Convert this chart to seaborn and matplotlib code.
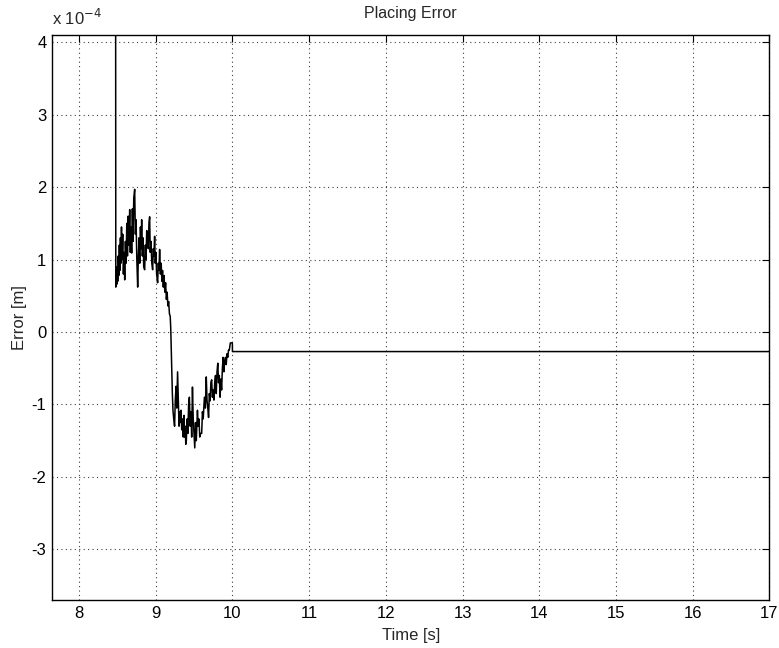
import numpy as np
import pandas as pd
import matplotlib
matplotlib.use("Agg")
import matplotlib.pyplot as plt
import seaborn as sns

# ---- data (error in units of 1e-4 m) ----
t_hold = [7.65, 8.478]
e_hold = [6.0, 6.0]

t_pos = [8.481, 8.488, 8.494, 8.500, 8.506, 8.513, 8.520, 8.527, 8.534, 8.541,
         8.548, 8.555, 8.562, 8.571, 8.580, 8.589, 8.597, 8.606, 8.615, 8.624,
         8.633, 8.642, 8.652, 8.662, 8.670, 8.678, 8.688, 8.697, 8.706, 8.715,
         8.727, 8.736, 8.745, 8.755, 8.766, 8.775, 8.784, 8.793, 8.802, 8.810,
         8.818, 8.827, 8.836, 8.845, 8.857, 8.866, 8.875, 8.884, 8.896, 8.905,
         8.913, 8.922, 8.930, 8.940, 8.950, 8.961, 8.970, 8.978, 8.987, 8.995,
         9.004, 9.013, 9.026, 9.035, 9.044, 9.052, 9.062, 9.072, 9.082, 9.090,
         9.100, 9.110, 9.120, 9.130, 9.140, 9.150, 9.160, 9.170, 9.180, 9.190]
e_pos = [0.62, 0.85, 0.66, 0.90, 0.70, 1.05, 0.78, 1.20, 0.85, 1.30,
         0.95, 1.45, 1.00, 1.35, 0.80, 1.10, 0.72, 1.25, 0.95, 1.50,
         1.05, 1.60, 1.20, 1.69, 1.10, 1.45, 1.09, 1.70, 1.25, 1.85,
         1.97, 1.35, 1.55, 1.00, 0.62, 1.05, 1.30, 0.95, 1.45, 1.15,
         1.55, 1.05, 1.30, 0.90, 0.86, 1.20, 1.00, 1.40, 1.37, 1.15,
         1.50, 1.59, 1.10, 1.25, 0.95, 0.86, 1.15, 1.05, 1.32, 0.95,
         1.10, 0.80, 0.68, 0.95, 0.85, 1.14, 0.80, 0.95, 0.70, 0.85,
         0.62, 0.78, 0.55, 0.68, 0.45, 0.55, 0.36, 0.42, 0.25, 0.22]

t_neg = [9.197, 9.203, 9.210, 9.218, 9.226, 9.236, 9.247, 9.256, 9.266, 9.276,
         9.286, 9.296, 9.305, 9.313, 9.322, 9.331, 9.340, 9.350, 9.360, 9.370,
         9.377, 9.385, 9.393, 9.400, 9.410, 9.420, 9.430, 9.440, 9.450, 9.460,
         9.470, 9.480, 9.490, 9.500, 9.510, 9.520, 9.530, 9.545, 9.555, 9.565,
         9.575, 9.585, 9.600, 9.610, 9.620, 9.636, 9.648, 9.660, 9.670, 9.680,
         9.690, 9.700, 9.710, 9.720, 9.730, 9.740, 9.750, 9.760, 9.770, 9.780,
         9.790, 9.800, 9.810, 9.820, 9.830, 9.840, 9.850, 9.860, 9.870, 9.880,
         9.890, 9.900, 9.910, 9.920, 9.930, 9.940, 9.950, 9.960, 9.974, 9.990]
e_neg = [0.05, -0.20, -0.50, -0.85, -1.08, -1.20, -1.30, -0.95, -0.75, -1.05,
         -0.55, -0.95, -1.30, -1.10, -1.25, -1.08, -1.35, -1.20, -1.45, -1.15,
         -1.45, -1.30, -1.55, -1.50, -1.20, -1.40, -1.00, -0.90, -1.30, -1.10,
         -1.45, -0.76, -1.20, -1.40, -1.60, -1.25, -1.50, -1.08, -1.30, -1.20,
         -1.45, -1.40, -1.40, -1.10, -1.20, -0.90, -1.05, -0.62, -0.95, -1.05,
         -1.18, -0.85, -0.95, -0.70, -0.66, -0.90, -0.80, -0.94, -0.70, -0.60,
         -0.85, -0.55, -0.43, -0.70, -0.60, -0.90, -0.65, -0.80, -0.50, -0.35,
         -0.55, -0.40, -0.35, -0.45, -0.30, -0.35, -0.25, -0.25, -0.15, -0.15]

t_flat = [10.0, 10.001, 17.0]
e_flat = [-0.15, -0.27, -0.27]

x_ticks = [8, 9, 10, 11, 12, 13, 14, 15, 16, 17]
y_ticks = [-3, -2, -1, 0, 1, 2, 3, 4]

df = pd.DataFrame({
    "time": t_hold + t_pos + t_neg + t_flat,
    "error": e_hold + e_pos + e_neg + e_flat,
})

sns.set_theme(style="white")
plt.rcParams["font.family"] = ["Liberation Sans", "DejaVu Sans"]

fig = plt.figure(figsize=(7.79, 6.48), dpi=100)
ax = fig.add_axes([0.0668, 0.074, 0.921, 0.872])

sns.lineplot(data=df, x="time", y="error", sort=False, estimator=None,
             color="black", linewidth=1.1, ax=ax)

ax.set_xlim(7.65, 17)
ax.set_ylim(-3.7, 4.1)
ax.set_xticks(x_ticks)
ax.set_yticks(y_ticks)
ax.set_xticklabels([str(v) for v in x_ticks], fontsize=12)
ax.set_yticklabels([str(v) for v in y_ticks], fontsize=12)
ax.grid(True, linestyle=(0, (1, 3)), color="0.25", linewidth=0.8)
ax.tick_params(direction="in", length=5, width=0.8, top=True, right=True,
               colors="black", pad=4)
for s in ax.spines.values():
    s.set_visible(True)
    s.set_color("black")
    s.set_linewidth(1.0)

ax.set_title("Placing Error", fontsize=11.5, pad=12)
ax.set_xlabel("Time [s]", fontsize=12, labelpad=5)
ax.set_ylabel("Error [m]", fontsize=12, labelpad=3)
ax.text(0.0, 1.012, r"x 10$^{-4}$", transform=ax.transAxes, ha="left",
        va="bottom", fontsize=12)

fig.savefig("out.png", dpi=100)
